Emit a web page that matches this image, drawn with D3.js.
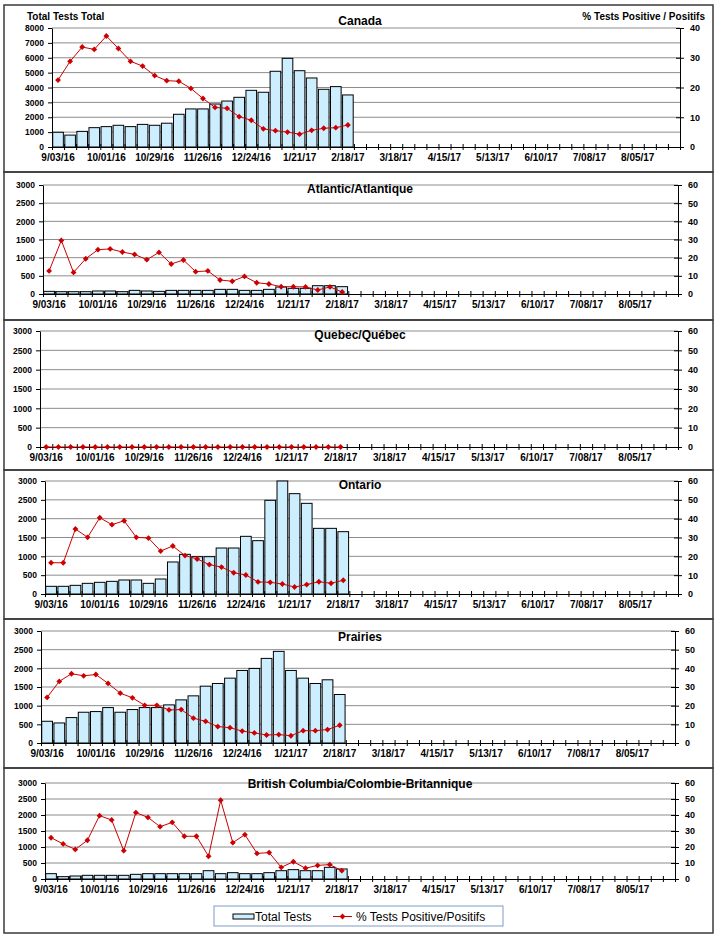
<!DOCTYPE html>
<html>
<head>
<meta charset="utf-8">
<script src="https://cdn.jsdelivr.net/npm/d3@7"></script>
<style>
  body { margin: 0; background: #fff; }
  svg { font-family: Arial, "Liberation Sans", sans-serif; }
</style>
</head>
<body>
<script>
// week categories (52 weeks, 2016-17 season)
const weeks = ["9/03/16","9/10/16","9/17/16","9/24/16","10/01/16","10/08/16","10/15/16","10/22/16",
  "10/29/16","11/05/16","11/12/16","11/19/16","11/26/16","12/03/16","12/10/16","12/17/16",
  "12/24/16","12/31/16","1/07/17","1/14/17","1/21/17","1/28/17","2/04/17","2/11/17",
  "2/18/17","2/25/17","3/04/17","3/11/17","3/18/17","3/25/17","4/01/17","4/08/17",
  "4/15/17","4/22/17","4/29/17","5/06/17","5/13/17","5/20/17","5/27/17","6/03/17",
  "6/10/17","6/17/17","6/24/17","7/01/17","7/08/17","7/15/17","7/22/17","7/29/17",
  "8/05/17","8/12/17","8/19/17","8/26/17"];
const tickLabels = ["9/03/16","10/01/16","10/29/16","11/26/16","12/24/16","1/21/17","2/18/17",
  "3/18/17","4/15/17","5/13/17","6/10/17","7/08/17","8/05/17"];

const canadaTests = [990,800,1050,1300,1370,1460,1370,1520,1460,1600,2200,2560,2560,2890,3090,3340,3810,3680,5090,5960,5130,4640,3880,4060,3500];
const canadaPct = [22.5,28.8,33.6,32.8,37.3,33.1,28.8,27.2,24.0,22.3,22.1,19.7,16.3,13.3,13.0,10.2,9.0,6.1,5.5,5.0,4.3,5.6,6.3,6.5,7.4];

const atlanticTests = [73,64,64,64,83,83,64,100,83,73,100,100,100,100,128,128,100,100,128,193,156,156,229,229,202];
const atlanticPct = [12.7,29.5,11.9,19.4,24.4,24.8,23.1,21.8,18.9,22.9,16.5,18.7,12.3,12.7,7.7,7.0,9.7,6.2,5.5,4.0,4.0,3.9,2.2,3.9,1.1];

const quebecTests = [0,0,0,0,0,0,0,0,0,0,0,0,0,0,0,0,0,0,0,0,0,0,0,0,0];
const quebecPct = [0,0,0,0,0,0,0,0,0,0,0,0,0,0,0,0,0,0,0,0,0,0,0,0,0];

const ontarioTests = [204,204,230,283,310,336,372,372,283,398,850,1053,991,991,1221,1221,1531,1416,2487,3000,2664,2407,1743,1743,1655];
const ontarioPct = [16.6,16.6,34.5,30.1,40.5,36.8,38.9,30.1,29.7,22.8,25.5,20.4,18.6,15.6,14.3,11.3,10.1,6.4,6.2,5.3,3.7,5.0,6.5,5.7,7.3];

const prairiesTests = [582,537,681,824,842,949,824,896,949,949,1021,1155,1263,1522,1594,1737,1943,1997,2266,2454,1943,1737,1594,1693,1299];
const prairiesPct = [24.4,33.0,37.1,36.0,36.7,31.9,26.7,24.2,20.2,20.2,17.7,17.9,13.3,11.6,8.8,8.2,6.4,5.4,4.3,4.5,3.9,6.6,6.6,7.2,9.5];

const bcTests = [167,73,94,115,115,115,115,146,167,167,167,167,167,260,167,198,167,167,198,260,292,260,260,365,313];
const bcPct = [25.8,21.9,18.5,24.2,39.6,36.9,17.7,41.5,38.5,32.7,35.4,26.7,26.7,14.2,49.2,22.7,27.7,16.0,16.5,7.3,10.8,6.7,8.5,9.0,5.2];

const panels = [
  { title: "Canada", tests: canadaTests, pct: canadaPct, leftMax: 8000, leftStep: 1000, rightMax: 40, rightStep: 10,
    box: [5, 172], l: 52, r: 680, t: 28, b: 147, titleY: 25 },
  { title: "Atlantic/Atlantique", tests: atlanticTests, pct: atlanticPct, leftMax: 3000, leftStep: 500, rightMax: 60, rightStep: 10,
    box: [172, 320], l: 43, r: 678, t: 185, b: 294, titleY: 193 },
  { title: "Quebec/Québec", tests: quebecTests, pct: quebecPct, leftMax: 3000, leftStep: 500, rightMax: 60, rightStep: 10,
    box: [320, 470], l: 40, r: 678, t: 331, b: 447, titleY: 339 },
  { title: "Ontario", tests: ontarioTests, pct: ontarioPct, leftMax: 3000, leftStep: 500, rightMax: 60, rightStep: 10,
    box: [470, 619], l: 45, r: 678, t: 481, b: 594, titleY: 489 },
  { title: "Prairies", tests: prairiesTests, pct: prairiesPct, leftMax: 3000, leftStep: 500, rightMax: 60, rightStep: 10,
    box: [619, 768], l: 41, r: 675, t: 631, b: 743, titleY: 641 },
  { title: "British Columbia/Colombie-Britannique", tests: bcTests, pct: bcPct, leftMax: 3000, leftStep: 500, rightMax: 60, rightStep: 10,
    box: [768, 933], l: 45, r: 675, t: 783, b: 879, titleY: 788 }
];

const barFill = "#cdeeff";
const red = "#cc0000";

const svg = d3.select("body").append("svg")
  .attr("width", 720)
  .attr("height", 939);

panels.forEach((p) => {
  // panel frame
  svg.append("rect")
    .attr("x", 4).attr("y", p.box[0])
    .attr("width", 709).attr("height", p.box[1] - p.box[0])
    .attr("fill", "none").attr("stroke", "#3a3a3a").attr("stroke-width", 1.5);

  const x = d3.scaleBand().domain(weeks).range([p.l, p.r]).paddingInner(0.12).paddingOuter(0.06);
  const xb = d3.scaleLinear().domain([0, weeks.length]).range([p.l, p.r]);
  const yL = d3.scaleLinear().domain([0, p.leftMax]).range([p.b, p.t]);
  const yR = d3.scaleLinear().domain([0, p.rightMax]).range([p.b, p.t]);

  const g = svg.append("g");

  // gridlines
  g.selectAll("line.grid")
    .data(d3.range(p.leftStep, p.leftMax + 1, p.leftStep))
    .join("line")
    .attr("x1", p.l).attr("x2", p.r)
    .attr("y1", (d) => yL(d)).attr("y2", (d) => yL(d))
    .attr("stroke", "#8c8c8c").attr("stroke-width", 1);

  // bars
  g.selectAll("rect.bar")
    .data(p.tests.map((v, i) => ({ w: weeks[i], v })))
    .join("rect")
    .attr("x", (d) => x(d.w))
    .attr("y", (d) => yL(d.v))
    .attr("width", x.bandwidth())
    .attr("height", (d) => yL(0) - yL(d.v))
    .attr("fill", barFill)
    .attr("stroke", "#000")
    .attr("stroke-width", 1);

  // left axis
  const left = svg.append("g")
    .attr("transform", `translate(${p.l},0)`)
    .call(d3.axisLeft(yL).tickValues(d3.range(0, p.leftMax + 1, p.leftStep))
      .tickFormat(d3.format("d")).tickSize(4).tickSizeOuter(0).tickPadding(4));
  left.selectAll("text").attr("font-size", 8.5).attr("font-weight", "bold").attr("font-family", "Arial, 'Liberation Sans'");

  // right axis
  const right = svg.append("g")
    .attr("transform", `translate(${p.r},0)`)
    .call(d3.axisRight(yR).tickValues(d3.range(0, p.rightMax + 1, p.rightStep))
      .tickFormat(d3.format("d")).tickSize(4).tickSizeOuter(0).tickPadding(6));
  right.selectAll(".tick line").attr("x1", -4).attr("x2", 4);
  right.selectAll("text").attr("font-size", 9).attr("font-weight", "bold").attr("font-family", "Arial, 'Liberation Sans'");

  // x axis: boundary ticks crossing the baseline
  const bottom = svg.append("g")
    .attr("transform", `translate(0,${p.b})`)
    .call(d3.axisBottom(xb).tickValues(d3.range(weeks.length + 1)).tickFormat("").tickSize(4).tickSizeOuter(0));
  bottom.selectAll(".tick line").attr("y1", -3).attr("y2", 3);

  // x labels every 4 weeks
  const labels = svg.append("g")
    .attr("transform", `translate(0,${p.b})`)
    .call(d3.axisBottom(x).tickValues(tickLabels).tickSize(0).tickPadding(7));
  labels.select(".domain").remove();
  labels.selectAll("text").attr("font-size", 10).attr("font-weight", "bold").attr("font-family", "Arial, 'Liberation Sans'");

  // % positive line
  const cx = (i) => x(weeks[i]) + x.bandwidth() / 2;
  svg.append("path")
    .datum(p.pct)
    .attr("fill", "none")
    .attr("stroke", red)
    .attr("stroke-width", 1)
    .attr("d", d3.line().x((d, i) => cx(i)).y((d) => yR(d)));

  svg.append("g").selectAll("path")
    .data(p.pct)
    .join("path")
    .attr("d", d3.symbol(d3.symbolSquare, 17))
    .attr("transform", (d, i) => `translate(${cx(i)},${yR(d)}) rotate(45)`)
    .attr("fill", red);

  // title
  svg.append("text")
    .attr("x", 360).attr("y", p.titleY)
    .attr("text-anchor", "middle")
    .attr("font-size", 12).attr("font-weight", "bold")
    .text(p.title);
});

// axis headers on the Canada panel
svg.append("text")
  .attr("x", 27).attr("y", 20)
  .attr("font-size", 10).attr("font-weight", "bold")
  .text("Total Tests Total");
svg.append("text")
  .attr("x", 705).attr("y", 20)
  .attr("text-anchor", "end")
  .attr("font-size", 10).attr("font-weight", "bold")
  .text("% Tests Positive / Positifs");

// legend
const legend = svg.append("g");
legend.append("rect")
  .attr("x", 214).attr("y", 906).attr("width", 289).attr("height", 20)
  .attr("fill", "#fff").attr("stroke", "#7f9cc4").attr("stroke-width", 1);
legend.append("rect")
  .attr("x", 233).attr("y", 914).attr("width", 21).attr("height", 5)
  .attr("fill", barFill).attr("stroke", "#000").attr("stroke-width", 1);
legend.append("text")
  .attr("x", 255).attr("y", 921)
  .attr("font-size", 12)
  .text("Total Tests");
legend.append("line")
  .attr("x1", 333).attr("x2", 352).attr("y1", 916.5).attr("y2", 916.5)
  .attr("stroke", red).attr("stroke-width", 1);
legend.append("path")
  .attr("d", d3.symbol(d3.symbolSquare, 17))
  .attr("transform", "translate(342.5,916.5) rotate(45)")
  .attr("fill", red);
legend.append("text")
  .attr("x", 356).attr("y", 921)
  .attr("font-size", 12)
  .text("% Tests Positive/Positifs");
</script>
</body>
</html>
